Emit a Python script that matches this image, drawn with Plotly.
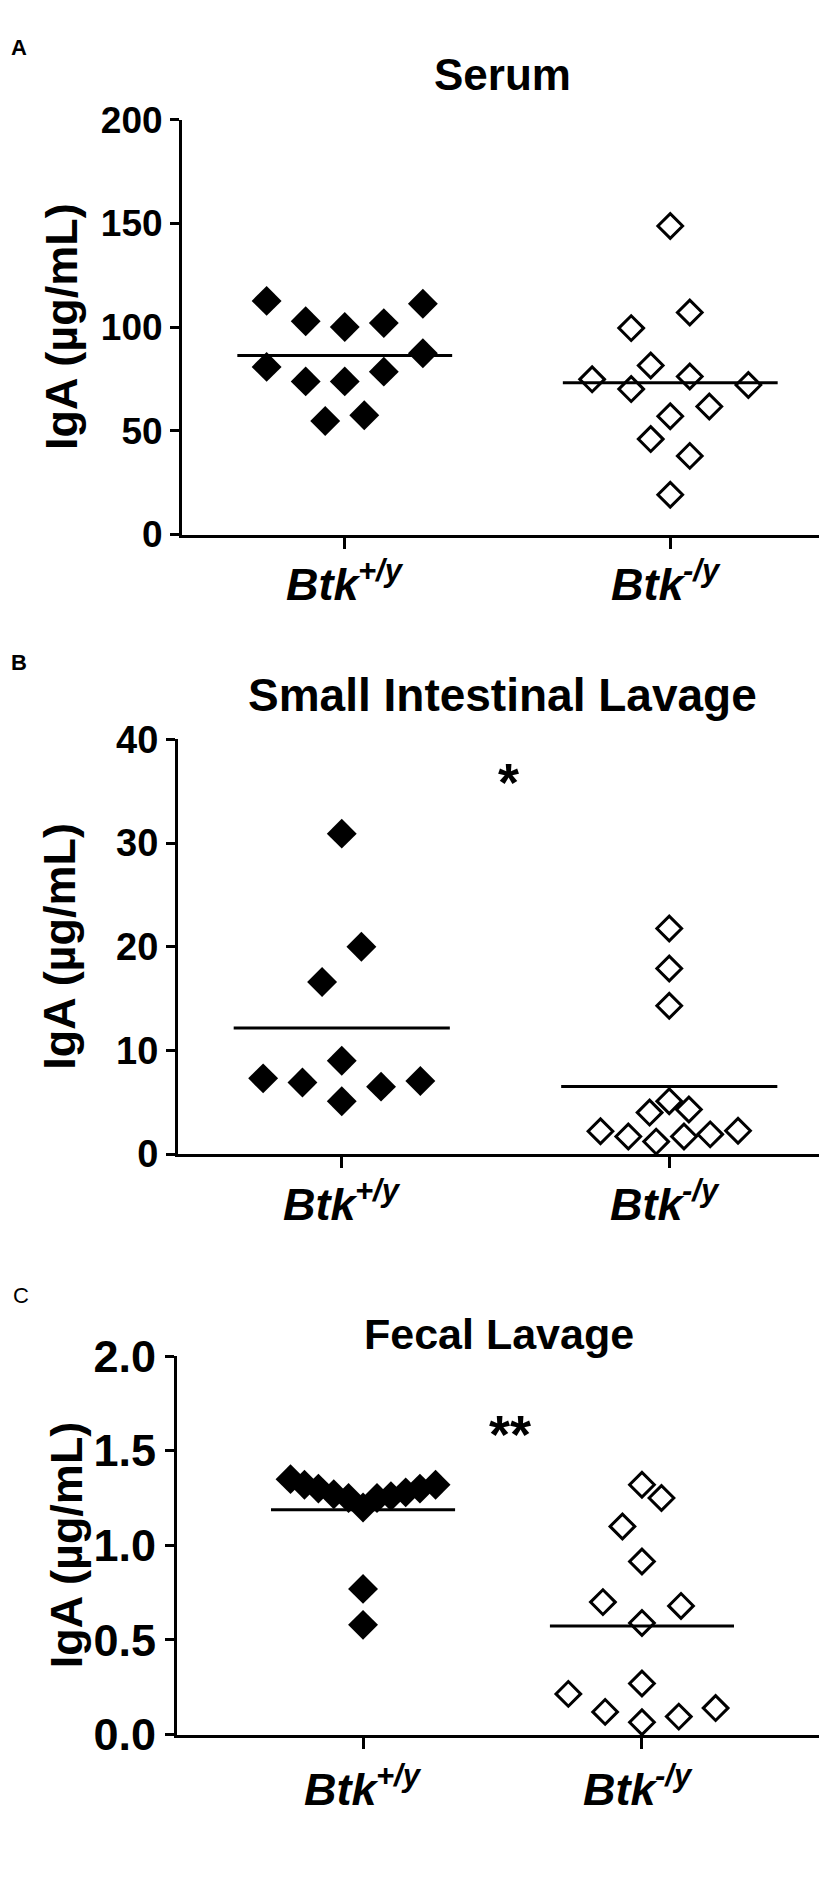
import numpy as np
import plotly.graph_objects as go

# ---------------- data ----------------
categories = ["Btk+/y", "Btk-/y"]
cat_main = ["Btk", "Btk"]
cat_sup = ["+/y", "-/y"]

# Panel A: Serum IgA (ug/mL)
serum_wt = [112.6, 102.8, 100.0, 101.9, 111.2, 80.8, 87.4, 73.8, 73.8, 78.5, 54.7, 57.5]
serum_ko = [148.7, 107.0, 99.5, 81.5, 74.8, 76.2, 70.1, 72.1, 61.7, 57.0, 46.0, 37.9, 19.2]
# horizontal scatter (column) offsets of the dots, in category units
serum_wt_jitter = [-0.24, -0.12, 0.0, 0.12, 0.24, -0.24, 0.24, -0.12, 0.0, 0.12, -0.06, 0.06]
serum_ko_jitter = [0.0, 0.06, -0.12, -0.06, -0.24, 0.06, -0.12, 0.24, 0.12, 0.0, -0.06, 0.06, 0.0]

# Panel B: Small intestinal lavage IgA (ug/mL)
si_wt = [30.9, 20.0, 16.6, 9.0, 7.3, 6.9, 5.1, 6.5, 7.05]
si_ko = [21.75, 17.9, 14.3, 5.1, 4.0, 4.3, 2.2, 1.7, 1.2, 1.7, 1.9, 2.25]
si_wt_jitter = [0.0, 0.06, -0.06, 0.0, -0.24, -0.12, 0.0, 0.12, 0.24]
si_ko_jitter = [0.0, 0.0, 0.0, 0.0, -0.06, 0.06, -0.21, -0.125, -0.04, 0.045, 0.125, 0.21]

# Panel C: Fecal lavage IgA (ug/mL)
fecal_wt = [1.35, 1.32, 1.30, 1.27, 1.25, 1.20, 1.25, 1.26, 1.28, 1.30, 1.32, 0.77, 0.58]
fecal_ko = [1.32, 1.25, 1.10, 0.915, 0.70, 0.68, 0.59, 0.27, 0.215, 0.12, 0.065, 0.095, 0.14]
fecal_wt_jitter = [-0.26, -0.21, -0.16, -0.105, -0.052, 0.0, 0.05, 0.1, 0.153, 0.204, 0.26, 0.0, 0.0]
fecal_ko_jitter = [0.0, 0.07, -0.07, 0.0, -0.14, 0.14, 0.0, 0.0, -0.264, -0.132, 0.0, 0.132, 0.264]

titles = ["Serum", "Small Intestinal Lavage", "Fecal Lavage"]
panel_letters = ["A", "B", "C"]
y_title = "IgA (µg/mL)"
y_ranges = [[0, 200], [0, 40], [0, 2]]
y_ticks = [[0, 50, 100, 150, 200], [0, 10, 20, 30, 40], [0, 0.5, 1.0, 1.5, 2.0]]
significance = ["", "*", "**"]

panels = [
    (serum_wt, serum_wt_jitter, serum_ko, serum_ko_jitter),
    (si_wt, si_wt_jitter, si_ko, si_ko_jitter),
    (fecal_wt, fecal_wt_jitter, fecal_ko, fecal_ko_jitter),
]

# ---------------- layout geometry (pixels of the 827 x 1881 page) ----------------
W, H = 827, 1881
FONT = "Liberation Sans, Arial, Helvetica, sans-serif"


def px(x):
    return x / W


def py(y):
    return 1 - y / H


# [x_left, x_right, y_top, y_bottom] of each plotting area
areas = [(174, 825, 89, 515.5), (170, 825, 726, 1152.3), (169, 820, 1360, 1749)]
x_ranges = [[-0.5, 1.5], [-0.5, 1.5], [-0.667, 1.667]]
tick_font = [37, 38, 45]
title_font = [44, 46, 43]
title_pos = [(494, 43), (494, 680), (491, 1337)]
letter_pos = [(11, 15), (11, 647), (13, 1298)]
letter_bold = [True, True, False]
xlabel_y = [567, 1204, 1805]
ytitle_x = [53, 52, 58]
sig_pos = [None, (500, 770), (502, 1440)]
LABEL_SIZE = 45
SUP_SIZE = 31

fig = go.Figure()
annotations = []

for i, (wt, wtj, ko, koj) in enumerate(panels):
    n = "" if i == 0 else str(i + 1)
    xa, ya = "x" + n, "y" + n
    # filled diamonds (Btk+/y)
    fig.add_trace(go.Scatter(
        x=[0 + j for j in wtj], y=wt, mode="markers", xaxis=xa, yaxis=ya,
        marker=dict(symbol="diamond", size=23, color="black", line=dict(width=0)),
        cliponaxis=False, showlegend=False, hoverinfo="y"))
    # open diamonds (Btk-/y)
    fig.add_trace(go.Scatter(
        x=[1 + j for j in koj], y=ko, mode="markers", xaxis=xa, yaxis=ya,
        marker=dict(symbol="diamond-open", size=19, color="black", line=dict(width=3)),
        cliponaxis=False, showlegend=False, hoverinfo="y"))
    # mean lines
    for c, vals in enumerate([wt, ko]):
        m = float(np.mean(vals))
        fig.add_trace(go.Scatter(
            x=[c - 0.33, c + 0.33], y=[m, m], mode="lines", xaxis=xa, yaxis=ya,
            line=dict(color="black", width=3), cliponaxis=False,
            showlegend=False, hoverinfo="skip"))

    xl, xr, yt, yb = areas[i]
    axis_common = dict(showline=True, linecolor="black", linewidth=3, mirror=False,
                       showgrid=False, zeroline=False, ticks="outside", tickcolor="black",
                       tickwidth=3)
    fig.layout["xaxis" + n] = dict(
        axis_common, domain=[px(xl), px(xr)], range=x_ranges[i], anchor=ya,
        tickvals=[0, 1], ticklen=11, showticklabels=False)
    fig.layout["yaxis" + n] = dict(
        axis_common, domain=[py(yb), py(yt)], range=y_ranges[i], anchor=xa,
        tickvals=y_ticks[i], ticklen=9,
        tickformat=".1f" if i == 2 else "d",
        tickfont=dict(family=FONT, size=tick_font[i], color="black", weight="bold"))

    # category labels: italic bold "Btk" with a superscript genotype drawn beside it
    for c in range(2):
        annotations.append(dict(
            x=c, y=py(xlabel_y[i]), xref=xa, yref="paper", text=cat_main[c],
            showarrow=False, xanchor="right", yanchor="middle", xshift=17,
            font=dict(family=FONT, size=LABEL_SIZE, color="black", weight="bold",
                      style="italic")))
        annotations.append(dict(
            x=c, y=py(xlabel_y[i]), xref=xa, yref="paper", text=cat_sup[c],
            showarrow=False, xanchor="left", yanchor="middle", xshift=11, yshift=14,
            font=dict(family=FONT, size=SUP_SIZE, color="black", weight="bold",
                      style="italic")))
    # panel title
    tx, ty = title_pos[i]
    annotations.append(dict(
        x=px(tx), y=py(ty), xref="paper", yref="paper", text=titles[i],
        showarrow=False, xanchor="center", yanchor="middle",
        font=dict(family=FONT, size=title_font[i], color="black", weight="bold")))
    # panel letter
    lx, ly = letter_pos[i]
    annotations.append(dict(
        x=px(lx), y=py(ly), xref="paper", yref="paper", text=panel_letters[i],
        showarrow=False, xanchor="center", yanchor="middle",
        font=dict(family=FONT, size=22, color="black",
                  weight="bold" if letter_bold[i] else "normal")))
    # y axis title
    annotations.append(dict(
        x=px(ytitle_x[i]), y=py((yt + yb) / 2), xref="paper", yref="paper",
        text=y_title, textangle=-90, showarrow=False,
        xanchor="center", yanchor="middle",
        font=dict(family=FONT, size=45, color="black", weight="bold")))
    # significance marks
    if sig_pos[i] is not None:
        sx, sy = sig_pos[i]
        annotations.append(dict(
            x=px(sx), y=py(sy), xref="paper", yref="paper", text=significance[i],
            showarrow=False, xanchor="center", yanchor="middle",
            font=dict(family=FONT, size=54, color="black", weight="bold")))

fig.update_layout(
    width=W, height=H, margin=dict(l=0, r=0, t=0, b=0),
    paper_bgcolor="white", plot_bgcolor="white",
    annotations=annotations, showlegend=False,
)

fig.write_html("out.html")
